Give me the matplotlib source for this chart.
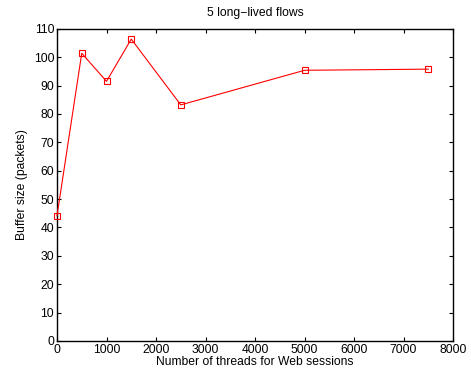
import matplotlib
matplotlib.use("Agg")
import matplotlib.pyplot as plt

threads = [0, 500, 1000, 1500, 2500, 5000, 7500]
buffer_size = [44.1, 101.4, 91.5, 106.4, 83.2, 95.4, 95.8]
x_ticks = [0, 1000, 2000, 3000, 4000, 5000, 6000, 7000, 8000]
y_ticks = [0, 10, 20, 30, 40, 50, 60, 70, 80, 90, 100, 110]

plt.rcParams['font.family'] = ['Liberation Sans', 'DejaVu Sans']
plt.rcParams['font.size'] = 8.7

fig = plt.figure(figsize=(4.71, 3.75), dpi=100)
ax = fig.add_axes([0.121, 0.091, 0.841, 0.832])

ax.plot(threads, buffer_size, color='red', linewidth=0.8, marker='s',
        markersize=5, markerfacecolor='none', markeredgecolor='red', markeredgewidth=0.8,
        clip_on=False, zorder=3)

ax.set_xlim(0, 8000)
ax.set_ylim(0, 110)
ax.set_xticks(x_ticks)
ax.set_yticks(y_ticks)
ax.tick_params(direction='in', top=True, right=True, length=3, width=0.8, pad=2)
for s in ax.spines.values():
    s.set_linewidth(1.0)

ax.set_title("5 long\u2212lived flows", fontsize=8.7, pad=9)
ax.set_xlabel("Number of threads for Web sessions", labelpad=0)
ax.set_ylabel("Buffer size (packets)", labelpad=4)

fig.savefig("out.png", dpi=100)
